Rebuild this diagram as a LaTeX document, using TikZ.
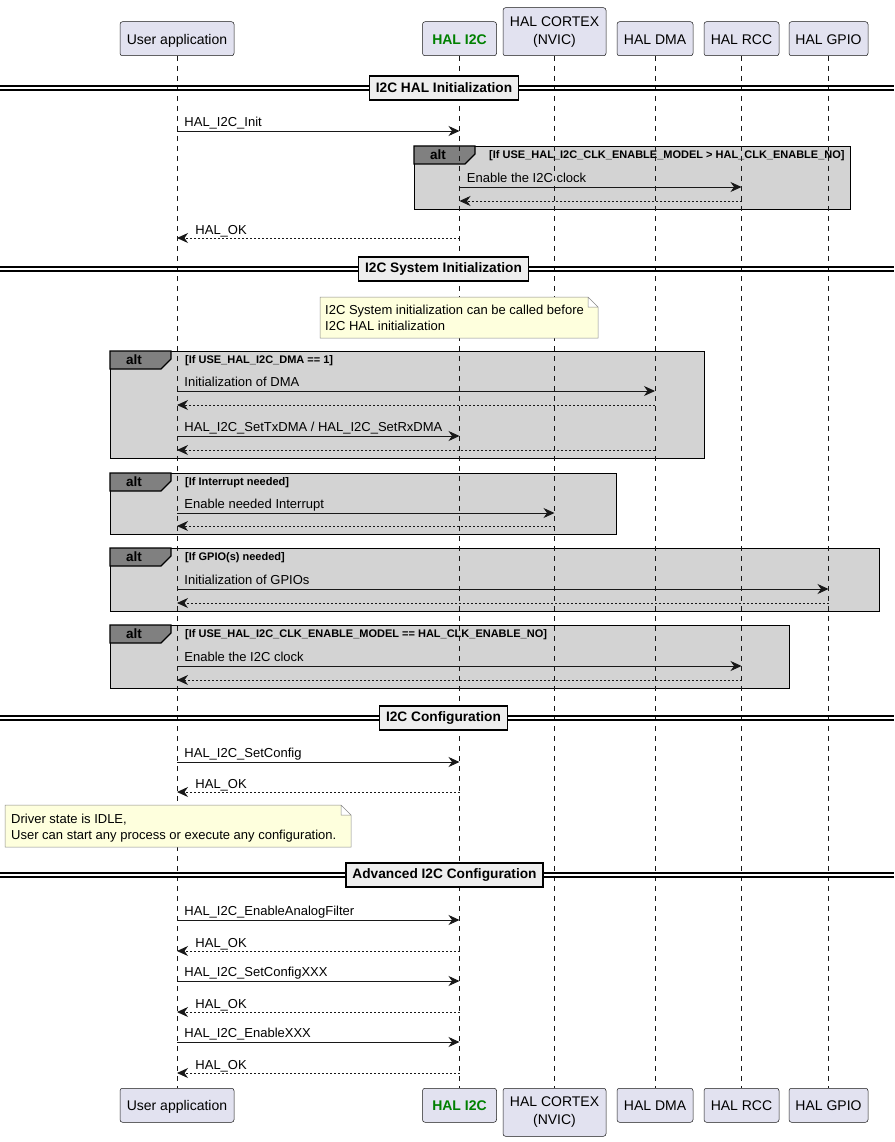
\documentclass[tikz,border=0pt]{standalone}
\usepackage{fontspec}
\setmainfont{Liberation Sans}
\usetikzlibrary{arrows.meta}
\definecolor{partfill}{HTML}{E2E2F0}
\definecolor{linecol}{HTML}{181818}
\definecolor{altfill}{HTML}{D3D3D3}
\definecolor{alttabfill}{HTML}{808080}
\definecolor{notefill}{HTML}{FEFFDD}
\definecolor{noteline}{HTML}{8A8A8A}
\definecolor{sepfill}{HTML}{EEEEEE}
\definecolor{i2cgreen}{HTML}{008000}

\begin{document}
\begin{tikzpicture}[x=1pt,y=-1pt,
	part/.style={draw=linecol, line width=0.5pt, fill=partfill, rounded corners=2.5pt,
		minimum height=34pt, inner sep=0pt, align=center, font=\fontsize{14}{18}\selectfont},
	partone/.style={part, text height=11pt, text depth=0pt},
	lifeline/.style={draw=linecol, line width=0.5pt, dash pattern=on 5pt off 5pt},
	call/.style={draw=linecol, line width=0.9pt, -{Stealth[length=11pt,width=10pt,inset=3.5pt]}},
	reply/.style={call, dash pattern=on 2pt off 2pt},
	msglabel/.style={anchor=base west, inner sep=0pt, font=\fontsize{13}{16}\selectfont},
	altbox/.style={draw=black, line width=1.3pt, fill=altfill, anchor=north west, inner sep=0pt},
	alttab/.style={draw=black, line width=1.3pt, fill=alttabfill},
	altname/.style={inner sep=0pt, font=\bfseries\fontsize{13.5}{16}\selectfont},
	altcond/.style={anchor=west, inner sep=0pt, font=\bfseries\fontsize{11}{13}\selectfont},
	sepline/.style={draw=black, line width=1.1pt},
	sepbox/.style={draw=black, line width=1.5pt, fill=sepfill, minimum height=24pt,
		inner xsep=6.5pt, font=\bfseries\fontsize{13.7}{16}\selectfont},
	notebox/.style={draw=noteline, line width=0.5pt, fill=notefill},
	notetext/.style={anchor=north west, inner sep=0pt, align=left, font=\fontsize{13}{16}\selectfont}]

	\useasboundingbox (0,0) rectangle (894,1142);

	% participants, top and bottom
	\draw (177,56) node[partone, anchor=south, minimum width=114pt](ua) {User application};
	\draw (459.5,56) node[partone, anchor=south, minimum width=74pt, text=i2cgreen,
		font=\bfseries\fontsize{14}{18}\selectfont](i2c) {HAL I2C};
	\draw (554.5,56) node[part, anchor=south, minimum width=103pt, minimum height=48pt](nvic) {HAL CORTEX\\(NVIC)};
	\draw (655,56) node[partone, anchor=south, minimum width=76pt](dma) {HAL DMA};
	\draw (741.5,56) node[partone, anchor=south, minimum width=75pt](rcc) {HAL RCC};
	\draw (828.5,56) node[partone, anchor=south, minimum width=79pt](gpio) {HAL GPIO};

	\draw (177,1088) node[partone, anchor=north, minimum width=114pt](ua2) {User application};
	\draw (459.5,1088) node[partone, anchor=north, minimum width=74pt, text=i2cgreen,
		font=\bfseries\fontsize{14}{18}\selectfont](i2c2) {HAL I2C};
	\draw (554.5,1088) node[part, anchor=north, minimum width=103pt, minimum height=48pt](nvic2) {HAL CORTEX\\(NVIC)};
	\draw (655,1088) node[partone, anchor=north, minimum width=76pt](dma2) {HAL DMA};
	\draw (741.5,1088) node[partone, anchor=north, minimum width=75pt](rcc2) {HAL RCC};
	\draw (828.5,1088) node[partone, anchor=north, minimum width=79pt](gpio2) {HAL GPIO};

	% alt groups
	\node[altbox, minimum width=436pt, minimum height=63pt] (alt1) at (414,146) {};
	\draw[alttab] (alt1.north west) -- ++(61,0) -- ++(0,8) -- ++(-10,10) -- ++(-51,0) -- cycle;
	\node[altname] (alt1lbl) at ([xshift=24pt,yshift=-9pt]alt1.north west) {alt};
	\node[altcond] (alt1cond) at ([xshift=75pt,yshift=-9.5pt]alt1.north west)
		{[If USE\_HAL\_I2C\_CLK\_ENABLE\_MODEL > HAL\_CLK\_ENABLE\_NO]};

	\node[altbox, minimum width=594pt, minimum height=107pt] (alt2) at (110,351) {};
	\draw[alttab] (alt2.north west) -- ++(61,0) -- ++(0,8) -- ++(-10,10) -- ++(-51,0) -- cycle;
	\node[altname] (alt2lbl) at ([xshift=24pt,yshift=-9pt]alt2.north west) {alt};
	\node[altcond] (alt2cond) at ([xshift=75pt,yshift=-9.5pt]alt2.north west) {[If USE\_HAL\_I2C\_DMA == 1]};

	\node[altbox, minimum width=506pt, minimum height=61pt] (alt3) at (110,473) {};
	\draw[alttab] (alt3.north west) -- ++(61,0) -- ++(0,8) -- ++(-10,10) -- ++(-51,0) -- cycle;
	\node[altname] (alt3lbl) at ([xshift=24pt,yshift=-9pt]alt3.north west) {alt};
	\node[altcond] (alt3cond) at ([xshift=75pt,yshift=-9.5pt]alt3.north west) {[If Interrupt needed]};

	\node[altbox, minimum width=769pt, minimum height=63pt] (alt4) at (110,548) {};
	\draw[alttab] (alt4.north west) -- ++(61,0) -- ++(0,8) -- ++(-10,10) -- ++(-51,0) -- cycle;
	\node[altname] (alt4lbl) at ([xshift=24pt,yshift=-9pt]alt4.north west) {alt};
	\node[altcond] (alt4cond) at ([xshift=75pt,yshift=-9.5pt]alt4.north west) {[If GPIO(s) needed]};

	\node[altbox, minimum width=679pt, minimum height=63pt] (alt5) at (110,625) {};
	\draw[alttab] (alt5.north west) -- ++(61,0) -- ++(0,8) -- ++(-10,10) -- ++(-51,0) -- cycle;
	\node[altname] (alt5lbl) at ([xshift=24pt,yshift=-9pt]alt5.north west) {alt};
	\node[altcond] (alt5cond) at ([xshift=75pt,yshift=-9.5pt]alt5.north west)
		{[If USE\_HAL\_I2C\_CLK\_ENABLE\_MODEL == HAL\_CLK\_ENABLE\_NO]};

	% lifelines
	\draw[lifeline] (ua) -- (ua2);
	\draw[lifeline] (i2c) -- (i2c2);
	\draw[lifeline] (nvic) -- (nvic2);
	\draw[lifeline] (dma) -- (dma2);
	\draw[lifeline] (rcc) -- (rcc2);
	\draw[lifeline] (gpio) -- (gpio2);

	% I2C HAL initialization
	\draw[call] (ua |- 0,131) -- (i2c |- 0,131) node[msglabel, pos=0, xshift=7pt, yshift=4.5pt] (m1) {HAL\_I2C\_Init};
	\draw[call] (i2c |- 0,187) -- (rcc |- 0,187) node[msglabel, pos=0, xshift=7pt, yshift=4.5pt] (m2) {Enable the I2C clock};
	\draw[reply] (rcc |- 0,201) -- (i2c |- 0,201);
	\draw[reply] (i2c |- 0,238) -- (ua |- 0,238) node[msglabel, pos=1, xshift=18pt, yshift=4pt] (m3) {HAL\_OK};

	% I2C system initialization
	\draw[call] (ua |- 0,391) -- (dma |- 0,391) node[msglabel, pos=0, xshift=7pt, yshift=4.5pt] (m4) {Initialization of DMA};
	\draw[reply] (dma |- 0,405) -- (ua |- 0,405);
	\draw[call] (ua |- 0,436) -- (i2c |- 0,436) node[msglabel, pos=0, xshift=7pt, yshift=4.5pt] (m5) {HAL\_I2C\_SetTxDMA / HAL\_I2C\_SetRxDMA};
	\draw[reply] (dma |- 0,450) -- (ua |- 0,450);
	\draw[call] (ua |- 0,513) -- (nvic |- 0,513) node[msglabel, pos=0, xshift=7pt, yshift=4.5pt] (m6) {Enable needed Interrupt};
	\draw[reply] (nvic |- 0,526) -- (ua |- 0,526);
	\draw[call] (ua |- 0,589) -- (gpio |- 0,589) node[msglabel, pos=0, xshift=7pt, yshift=4.5pt] (m7) {Initialization of GPIOs};
	\draw[reply] (gpio |- 0,603) -- (ua |- 0,603);
	\draw[call] (ua |- 0,666) -- (rcc |- 0,666) node[msglabel, pos=0, xshift=7pt, yshift=4.5pt] (m8) {Enable the I2C clock};
	\draw[reply] (rcc |- 0,680) -- (ua |- 0,680);

	% I2C configuration
	\draw[call] (ua |- 0,762) -- (i2c |- 0,762) node[msglabel, pos=0, xshift=7pt, yshift=4.5pt] (m9) {HAL\_I2C\_SetConfig};
	\draw[reply] (i2c |- 0,792) -- (ua |- 0,792) node[msglabel, pos=1, xshift=18pt, yshift=4pt] (m10) {HAL\_OK};

	% advanced I2C configuration
	\draw[call] (ua |- 0,920) -- (i2c |- 0,920) node[msglabel, pos=0, xshift=7pt, yshift=4.5pt] (m11) {HAL\_I2C\_EnableAnalogFilter};
	\draw[reply] (i2c |- 0,951) -- (ua |- 0,951) node[msglabel, pos=1, xshift=18pt, yshift=4pt] (m12) {HAL\_OK};
	\draw[call] (ua |- 0,981) -- (i2c |- 0,981) node[msglabel, pos=0, xshift=7pt, yshift=4.5pt] (m13) {HAL\_I2C\_SetConfigXXX};
	\draw[reply] (i2c |- 0,1012) -- (ua |- 0,1012) node[msglabel, pos=1, xshift=18pt, yshift=4pt] (m14) {HAL\_OK};
	\draw[call] (ua |- 0,1042) -- (i2c |- 0,1042) node[msglabel, pos=0, xshift=7pt, yshift=4.5pt] (m15) {HAL\_I2C\_EnableXXX};
	\draw[reply] (i2c |- 0,1073) -- (ua |- 0,1073) node[msglabel, pos=1, xshift=18pt, yshift=4pt] (m16) {HAL\_OK};

	% section dividers
	\draw[sepline] (0,86) -- (894,86) (0,90) -- (894,90);
	\draw (444,88) node[sepbox](sep1) {I2C HAL Initialization};
	\draw[sepline] (0,267) -- (894,267) (0,271) -- (894,271);
	\draw (443.5,269) node[sepbox](sep2) {I2C System Initialization};
	\draw[sepline] (0,716) -- (894,716) (0,720) -- (894,720);
	\draw (443.5,718) node[sepbox](sep3) {I2C Configuration};
	\draw[sepline] (0,873) -- (894,873) (0,877) -- (894,877);
	\draw (444.5,875) node[sepbox](sep4) {Advanced I2C Configuration};

	% notes
	\draw[notebox] (320,297) -- (588,297) -- (598,307) -- (598,338) -- (320,338) -- cycle
		(588,297) -- (588,307) -- (598,307);
	\node[notetext] (note1) at (325,305) {I2C System initialization can be called before\\I2C HAL initialization};
	\draw[notebox] (5,805) -- (341,805) -- (351,815) -- (351,847) -- (5,847) -- cycle
		(341,805) -- (341,815) -- (351,815);
	\node[notetext] (note2) at (11,814) {Driver state is IDLE,\\User can start any process or execute any configuration.};
\end{tikzpicture}
\end{document}
